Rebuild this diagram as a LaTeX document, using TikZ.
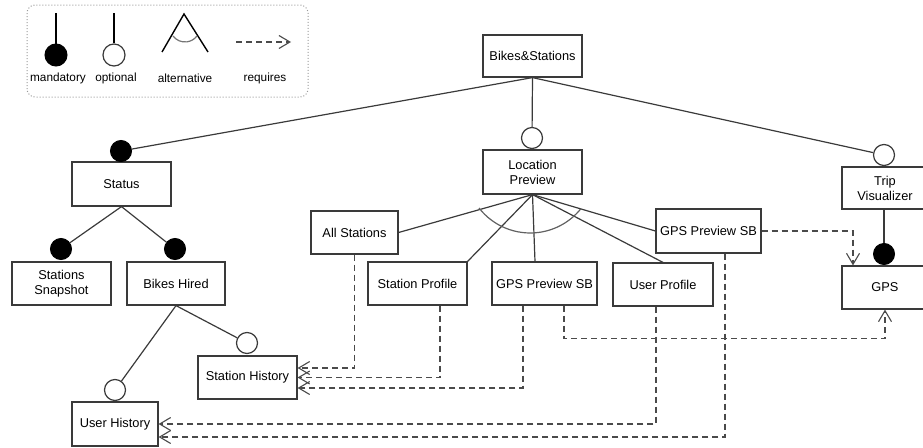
\documentclass[tikz,border=0pt]{standalone}
\usepackage{fontspec}
\setmainfont{Liberation Sans}
\usetikzlibrary{arrows.meta}
\definecolor{edge}{HTML}{3A3A3A}
\definecolor{dashc}{HTML}{4A4A4A}
\definecolor{legendframe}{HTML}{9A9A9A}

\begin{document}
\begin{tikzpicture}[x=1pt,y=-1pt,
  feature/.style={draw=edge, line width=1.2pt, fill=white, inner sep=0pt,
    align=center, font=\fontsize{12.8}{15}\selectfont, text=black},
  mand/.style={circle, draw=black, fill=black, minimum size=21pt, inner sep=0pt, line width=1pt},
  opt/.style={circle, draw=edge, fill=white, minimum size=21pt, inner sep=0pt, line width=1.2pt},
  link/.style={draw=edge, line width=1.2pt},
  alt/.style={draw=edge!80, line width=1.2pt},
  req/.style={draw=dashc, line width=1.2pt, dash pattern=on 6pt off 4pt,
    -{Straight Barb[length=11pt,width=13pt,line width=1.1pt]}},
  lgtext/.style={font=\fontsize{11.8}{13}\selectfont, inner sep=0pt, text=black}
]
\useasboundingbox (0,0) rectangle (923,447);
\clip (0,0) rectangle (923,447);

% ---------- legend ----------
\draw[legendframe, line width=1pt, dotted, rounded corners=8pt] (27,5) rectangle (308,97);
\node[mand, minimum size=22pt] (lgm) at (56,55) {};
\coordinate (lgmtop) at (56,13);
\draw[link, draw=black] (lgmtop) -- (lgm);
\node[opt, minimum size=22pt] (lgo) at (114,55) {};
\coordinate (lgotop) at (114,13);
\draw[link, draw=black] (lgotop) -- (lgo);
\coordinate (lgapex) at (184,14);
\coordinate (lgl) at (162,52);
\coordinate (lgr) at (208,52);
\draw[link, draw=black, line width=1.4pt] (lgl) -- (lgapex) -- (lgr);
\draw[alt, draw=edge!70] (173,36) arc[start angle=143, end angle=37, radius=15];
\coordinate (lgq1) at (236,42);
\coordinate (lgq2) at (291,42);
\draw[req] (lgq1) -- (lgq2);
\node[lgtext] (tm) at (58,78) {mandatory};
\node[lgtext] (to) at (116,78) {optional};
\node[lgtext] (ta) at (185,78) {alternative};
\node[lgtext] (tr) at (265,78) {requires};

% ---------- features ----------
\node[feature, minimum width=99pt, minimum height=42pt] (root)   at (532.5,56)  {Bikes\&Stations};
\node[feature, minimum width=99pt, minimum height=44pt] (lp)     at (532.5,172) {Location\\Preview};
\node[feature, minimum width=86pt, minimum height=42pt] (trip)   at (885,188)   {Trip\\Visualizer};
\node[feature, minimum width=99pt, minimum height=44pt] (status) at (121.5,184) {Status};
\node[feature, minimum width=99pt, minimum height=43pt] (snap)   at (61.5,283.5){Stations\\Snapshot};
\node[feature, minimum width=98pt, minimum height=43pt] (hired)  at (176,283.5) {Bikes Hired};
\node[feature, minimum width=99pt, minimum height=43pt] (sthist) at (247.5,377.5){Station History};
\node[feature, minimum width=86pt, minimum height=44pt] (uhist)  at (115,424)   {User History};
\node[feature, minimum width=87pt, minimum height=43pt] (allst)  at (354.5,232.5){All Stations};
\node[feature, minimum width=99pt, minimum height=43pt] (sprof)  at (417.5,283.5){Station Profile};
\node[feature, minimum width=105pt, minimum height=43pt] (gpsm)  at (544.5,283.5){GPS Preview SB};
\node[feature, minimum width=100pt, minimum height=43pt] (uprof) at (663,284.5) {User Profile};
\node[feature, minimum width=105pt, minimum height=44pt] (gpsr)  at (708.5,231) {GPS Preview SB};
\node[feature, minimum width=86pt, minimum height=43pt] (gps)    at (885,287.5) {GPS};

% ---------- decorations on child features ----------
\node[mand] (cstatus) at (121,151) {};
\node[opt]  (clp)     at (532,138) {};
\node[opt]  (ctrip)   at (884,155) {};
\node[mand] (csnap)   at (61,249)  {};
\node[mand] (chired)  at (175,249) {};
\node[opt]  (csthist) at (247,343) {};
\node[opt]  (cuhist)  at (115,390) {};
\node[mand] (cgps)    at (884,254) {};

% ---------- parent-child links ----------
\draw[link] (root.south) -- (cstatus);
\draw[link] (root.south) -- (clp);
\draw[link] (root.south) -- (ctrip);
\draw[link] (status.south) -- (csnap);
\draw[link] (status.south) -- (chired);
\draw[link] (hired.south) -- (csthist);
\draw[link] (hired.south) -- (cuhist);
\draw[link] (trip.south -| cgps) -- (cgps);

% ---------- alternative group ----------
\draw[link] (lp.south) -- (allst.east);
\draw[link] (lp.south) -- (sprof.north east);
\draw[link] (lp.south) -- ([xshift=-9.5pt]gpsm.north);
\draw[link] (lp.south) -- (uprof.north);
\draw[link] (lp.south) -- (gpsr.west);
\draw[alt] (479,208) arc[start angle=142, end angle=39, radius=65];

% ---------- requires ----------
\draw[req] (allst.south) |- ([yshift=9.5pt]sthist.east);
\draw[req] ([xshift=22.5pt]sprof.south) |- (sthist.east);
\draw[req] ([xshift=-21.5pt]gpsm.south) |- ([yshift=-10.5pt]sthist.east);
\draw[req] ([xshift=19.5pt]gpsm.south) -- ++(0,33) -| (gps.south);
\draw[req] ([xshift=-7pt]uprof.south) |- (uhist.east);
\draw[req] ([xshift=16.5pt]gpsr.south) |- ([yshift=-13pt]uhist.east);
\draw[req] (gpsr.east) -| ([xshift=-32pt]gps.north);
\end{tikzpicture}
\end{document}
